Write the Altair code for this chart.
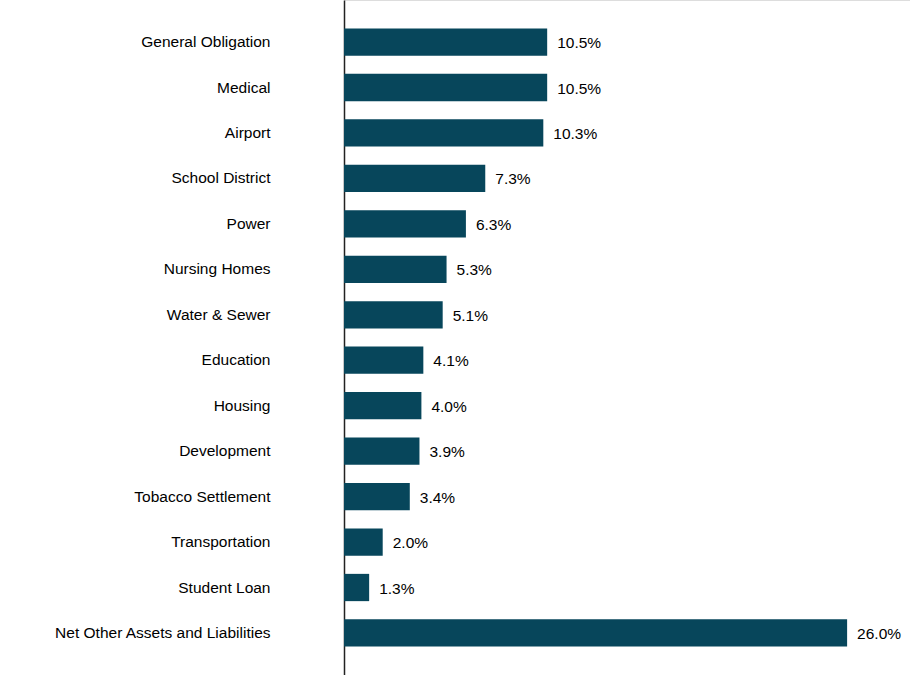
import altair as alt
import pandas as pd

categories = ["General Obligation", "Medical", "Airport", "School District", "Power",
              "Nursing Homes", "Water & Sewer", "Education", "Housing", "Development",
              "Tobacco Settlement", "Transportation", "Student Loan",
              "Net Other Assets and Liabilities"]
values = [10.5, 10.5, 10.3, 7.3, 6.3, 5.3, 5.1, 4.1, 4.0, 3.9, 3.4, 2.0, 1.3, 26.0]
labels = ["10.5%", "10.5%", "10.3%", "7.3%", "6.3%", "5.3%", "5.1%", "4.1%", "4.0%",
          "3.9%", "3.4%", "2.0%", "1.3%", "26.0%"]

df = pd.DataFrame({"category": categories, "value": values, "label": labels})

FONT = "Liberation Sans Narrow, Arial Narrow, Liberation Sans, sans-serif"

y_enc = alt.Y("category:N", sort=categories,
              scale=alt.Scale(paddingInner=0.4, paddingOuter=0.625),
              axis=alt.Axis(title=None, ticks=False, labelPadding=74, labelFontSize=15.5,
                            labelFont=FONT, labelColor="#000000", domainColor="#222222",
                            domainWidth=1.5, labelLimit=400))
x_enc = alt.X("value:Q", scale=alt.Scale(domain=[0, 29.25], nice=False),
              axis=None)

bars = alt.Chart(df).mark_bar(color="#07465B").encode(x=x_enc, y=y_enc)
text = alt.Chart(df).mark_text(align="left", baseline="middle", dx=10, dy=1,
                               fontSize=15.5, font=FONT, color="#000000").encode(
    x=x_enc, y=y_enc, text="label:N")

chart = (bars + text).properties(
    width=566, height=675,
    padding={"left": 344, "top": 0, "right": 0, "bottom": 0},
    autosize=alt.AutoSizeParams(type="none"),
).configure_view(stroke=None).configure(background="white")

chart.save("out.html", embed_options={"renderer": "svg", "actions": False})
